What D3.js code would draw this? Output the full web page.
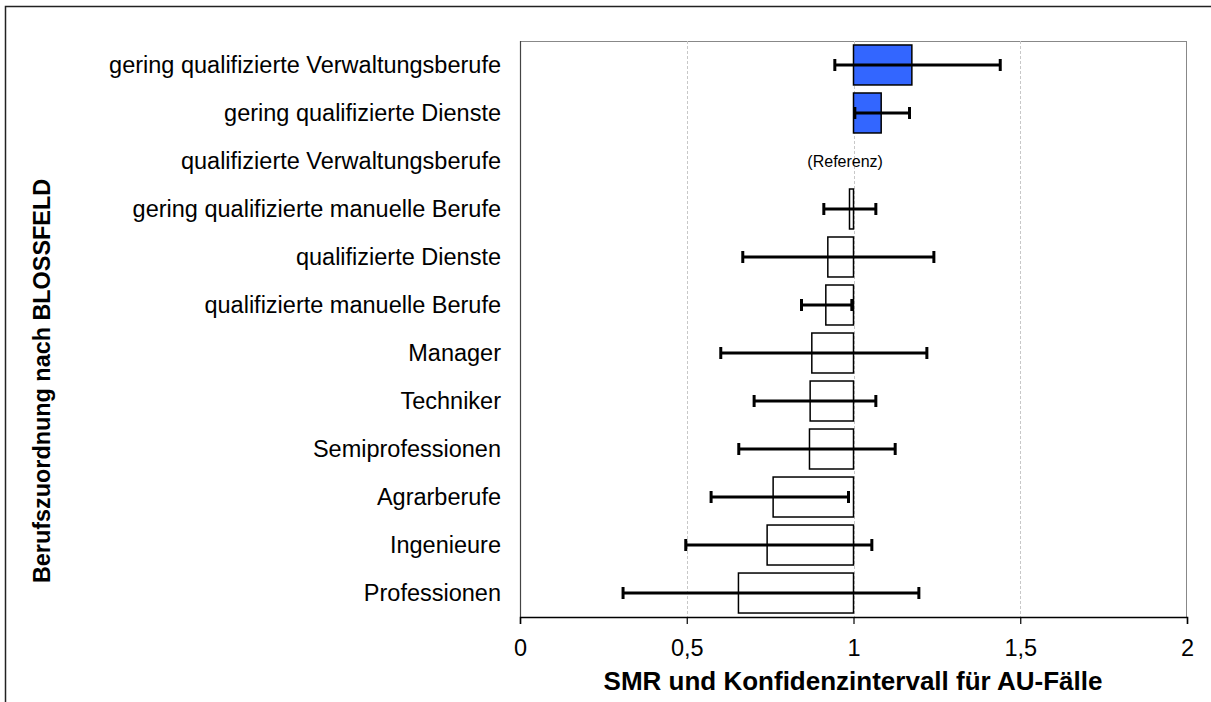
<!DOCTYPE html>
<html><head><meta charset="utf-8">
<script src="https://cdn.jsdelivr.net/npm/d3@7"></script>
<style>body{margin:0;background:#fff}svg{display:block}</style>
</head><body>
<script>
const categories = ["gering qualifizierte Verwaltungsberufe","gering qualifizierte Dienste","qualifizierte Verwaltungsberufe","gering qualifizierte manuelle Berufe","qualifizierte Dienste","qualifizierte manuelle Berufe","Manager","Techniker","Semiprofessionen","Agrarberufe","Ingenieure","Professionen"];
const smr     = [1.175, 1.083, null, 0.988, 0.923, 0.917, 0.875, 0.870, 0.868, 0.759, 0.741, 0.655];
const ciLow   = [0.944, 1.004, null, 0.911, 0.668, 0.844, 0.602, 0.702, 0.656, 0.573, 0.497, 0.309];
const ciHigh  = [1.440, 1.168, null, 1.067, 1.241, 0.995, 1.220, 1.067, 1.125, 0.985, 1.055, 1.196];
const significant = [true, true, false, false, false, false, false, false, false, false, false, false];
const xTicks = [0, 0.5, 1, 1.5, 2];
const refLabel = "(Referenz)";
const xTitle = "SMR und Konfidenzintervall für AU-Fälle";
const yTitle = "Berufszuordnung nach BLOSSFELD";

const W = 1211, H = 702;
const L = 520, R = 1187, T = 41, B = 617;
const FONT = "'Liberation Sans', Arial, sans-serif";
const svg = d3.select("body").append("svg").attr("width", W).attr("height", H)
  .style("font-family", FONT);

svg.append("rect").attr("x", 5.5).attr("y", 6.5).attr("width", 1400).attr("height", 900)
  .attr("fill", "none").attr("stroke", "#222").attr("stroke-width", 1.5);

const x = d3.scaleLinear().domain([0, 2]).range([L, R]);
const y = d3.scaleBand().domain(categories).range([T, B]).paddingInner(0.167).paddingOuter(0.083);

// plot frame (top/right light)
svg.append("line").attr("x1", L).attr("x2", R).attr("y1", T + 0.5).attr("y2", T + 0.5).attr("stroke", "#888").attr("stroke-width", 1);
svg.append("line").attr("x1", R - 0.5).attr("x2", R - 0.5).attr("y1", T).attr("y2", B).attr("stroke", "#888").attr("stroke-width", 1);

// gridlines
svg.append("g").selectAll("line").data(xTicks.filter(d => d > 0 && d < 2)).join("line")
  .attr("x1", d => Math.round(x(d)) + 0.5).attr("x2", d => Math.round(x(d)) + 0.5)
  .attr("y1", T).attr("y2", B)
  .attr("stroke", "#c8c8c8").attr("stroke-width", 1).attr("stroke-dasharray", "3,2");

// left axis line
svg.append("line").attr("x1", L + 0.5).attr("x2", L + 0.5).attr("y1", T).attr("y2", B)
  .attr("stroke", "#444").attr("stroke-width", 1.2);

const rows = categories.map((c, i) => ({c, v: smr[i], lo: ciLow[i], hi: ciHigh[i], sig: significant[i]}));

// bars
svg.append("g").selectAll("rect").data(rows.filter(d => d.v != null)).join("rect")
  .attr("x", d => Math.min(x(d.v), x(1)))
  .attr("y", d => y(d.c))
  .attr("width", d => Math.abs(x(d.v) - x(1)))
  .attr("height", y.bandwidth())
  .attr("fill", d => d.sig ? "#3366FF" : "#fff")
  .attr("stroke", "#000").attr("stroke-width", 1.5);

// error bars
const eb = svg.append("g").selectAll("g").data(rows.filter(d => d.lo != null)).join("g")
  .attr("transform", d => `translate(0,${y(d.c) + y.bandwidth() / 2})`);
eb.append("line").attr("x1", d => x(d.lo)).attr("x2", d => x(d.hi)).attr("y1", 0).attr("y2", 0)
  .attr("stroke", "#000").attr("stroke-width", 3);
eb.append("line").attr("x1", d => x(d.lo)).attr("x2", d => x(d.lo)).attr("y1", -6).attr("y2", 6)
  .attr("stroke", "#000").attr("stroke-width", 3);
eb.append("line").attr("x1", d => x(d.hi)).attr("x2", d => x(d.hi)).attr("y1", -6).attr("y2", 6)
  .attr("stroke", "#000").attr("stroke-width", 3);

// reference label
rows.filter(d => d.v == null).forEach(d => {
  svg.append("text").attr("x", x(0.975)).attr("y", y(d.c) + y.bandwidth() / 2 + 6)
    .attr("text-anchor", "middle").attr("font-size", 16).attr("fill", "#000").text(refLabel);
});

// x axis
const xAxis = svg.append("g").attr("transform", `translate(0,${B})`)
  .call(d3.axisBottom(x).tickValues(xTicks).tickSize(7).tickPadding(15)
    .tickFormat(d => String(d).replace(".", ",")));
xAxis.select(".domain").attr("stroke", "#000").attr("stroke-width", 1.5);
xAxis.selectAll(".tick line").attr("stroke", "#000").attr("stroke-width", 1.2);
xAxis.selectAll("text").attr("font-size", 23.5).attr("fill", "#000").style("font-family", FONT);

// y labels
svg.append("g").selectAll("text").data(categories).join("text")
  .attr("x", 501).attr("y", d => y(d) + y.bandwidth() / 2 + 8)
  .attr("text-anchor", "end").attr("font-size", 23.5).attr("fill", "#000").text(d => d);

// titles
svg.append("text").attr("x", 853).attr("y", 690).attr("text-anchor", "middle")
  .attr("font-size", 26).attr("font-weight", "bold").attr("fill", "#000").text(xTitle);
svg.append("text").attr("transform", "translate(50,381) rotate(-90)").attr("text-anchor", "middle")
  .attr("font-size", 23.4).attr("font-weight", "bold").attr("fill", "#000").text(yTitle);
</script>
</body></html>
